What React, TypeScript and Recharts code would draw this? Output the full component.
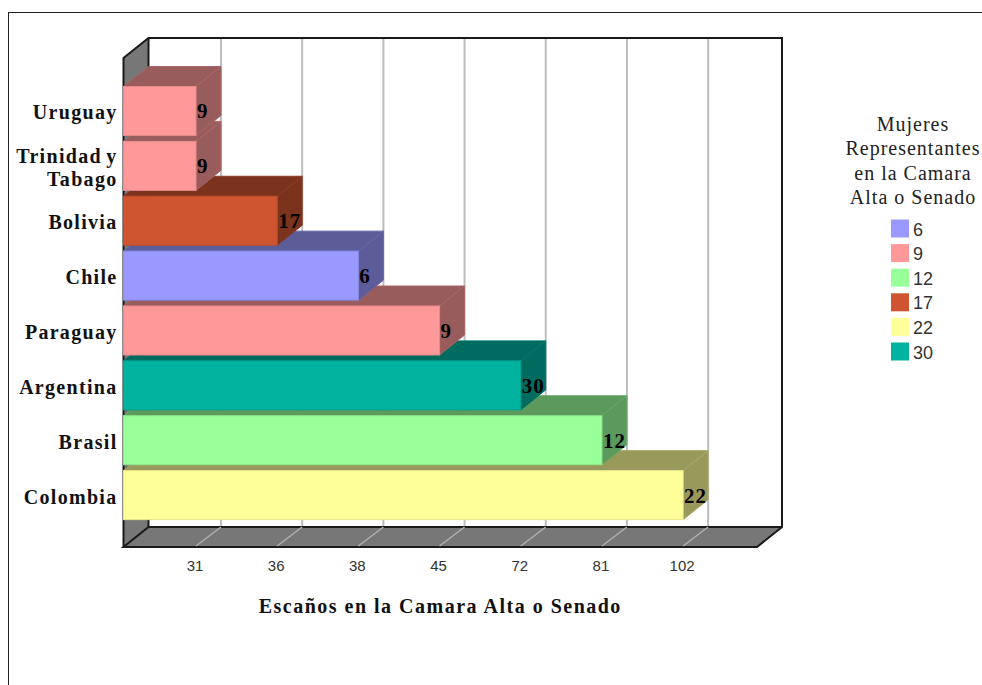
import React from "react";
import { BarChart, Bar, XAxis, YAxis, CartesianGrid, LabelList, usePlotArea } from "recharts";

// bottom to top, so that upper bars are painted over the top faces of lower ones
const categories = ["Colombia", "Brasil", "Argentina", "Paraguay", "Chile", "Bolivia", "Trinidad y Tabago", "Uruguay"];
const seats = [102, 81, 72, 45, 38, 36, 31, 31];
const women = [22, 12, 30, 9, 6, 17, 9, 9];
const seatTicks = [31, 36, 38, 45, 72, 81, 102];
const legendValues = [6, 9, 12, 17, 22, 30];
const legendTitle = ["Mujeres", "Representantes", "en la Camara", "Alta o Senado"];
const axisTitle = "Escaños en la Camara Alta o Senado";

const colourOf: Record<number, string> = {
  6: "#9999ff",
  9: "#ff9999",
  12: "#99ff99",
  17: "#cf5530",
  22: "#ffff99",
  30: "#00b39f",
};

const data = categories.map((name, i) => ({
  name,
  seats: seats[i],
  women: women[i],
  position: seatTicks.indexOf(seats[i]) + 1,
}));

const SERIF = "'Liberation Serif', 'Times New Roman', serif";
const SANS = "'Liberation Sans', Arial, sans-serif";
const DX = 25;
const DY = 20;

function shade(hex: string, f: number) {
  const n = parseInt(hex.slice(1), 16);
  const c = [(n >> 16) & 255, (n >> 8) & 255, n & 255].map((v) => Math.round(v * f));
  return `rgb(${c[0]},${c[1]},${c[2]})`;
}

function Walls() {
  const p = usePlotArea();
  if (!p) return null;
  const l = p.x, r = p.x + p.width, t = p.y, b = p.y + p.height;
  const edge = { stroke: "#1a1a1a", strokeWidth: 2, fill: "none" };
  return (
    <g>
      <polygon points={`${l + DX},${t - DY} ${r + DX},${t - DY} ${r + DX},${b - DY} ${l + DX},${b - DY}`} fill="#fff" />
      <polygon points={`${l},${t} ${l + DX},${t - DY} ${l + DX},${b - DY} ${l},${b}`} fill="#777" />
      <polygon points={`${l},${b} ${r},${b} ${r + DX},${b - DY} ${l + DX},${b - DY}`} fill="#777" />
      <polyline {...edge} points={`${l},${b} ${l},${t} ${l + DX},${t - DY} ${r + DX},${t - DY} ${r + DX},${b - DY} ${r},${b} ${l},${b} ${l + DX},${b - DY} ${r + DX},${b - DY}`} />
      <line {...edge} x1={l + DX} y1={t - DY} x2={l + DX} y2={b - DY} />
    </g>
  );
}

function GridLine(props: any) {
  const { x1, y1, y2 } = props;
  const p = usePlotArea();
  if (!p || Math.abs(x1 - p.x) < 1 || Math.abs(x1 - (p.x + p.width)) < 1) return null;
  return (
    <g>
      <line x1={x1} y1={y2 - 1} x2={x1 + DX} y2={y2 - DY} stroke="#b0b0b0" strokeWidth={1.5} />
      <line x1={x1 + DX} y1={y1 - DY + 1} x2={x1 + DX} y2={y2 - DY - 1} stroke="#bdbdbd" strokeWidth={2} />
    </g>
  );
}

function Box3D(props: any) {
  const { x, y, width, height, payload } = props;
  const c = colourOf[payload.women];
  const dark = shade(c, 0.6);
  const rx = x + width, by = y + height;
  return (
    <g>
      <polygon points={`${x},${y} ${rx},${y} ${rx + DX},${y - DY} ${x + DX},${y - DY}`} fill={dark} stroke={shade(c, 0.66)} strokeWidth={1} />
      <polygon points={`${rx},${y} ${rx + DX},${y - DY} ${rx + DX},${by - DY} ${rx},${by}`} fill={dark} stroke={shade(c, 0.66)} strokeWidth={1} />
      <rect x={x} y={y} width={width} height={height} fill={c} stroke={shade(c, 0.9)} strokeWidth={1} />
    </g>
  );
}

function CategoryTick(props: any) {
  const { x, y, payload } = props;
  const words = String(payload.value).split(" ");
  const lines = words.length > 2 ? [words.slice(0, 2).join(" "), words.slice(2).join(" ")] : [payload.value];
  const start = y + 8.5 - ((lines.length - 1) * 23) / 2;
  return (
    <text x={x} textAnchor="end" fontFamily={SERIF} fontWeight="bold" fontSize={20} letterSpacing={1.3} wordSpacing={-2} fill="#111">
      {lines.map((s: string, i: number) => (
        <tspan key={s} x={x} y={start + i * 23}>{s}</tspan>
      ))}
    </text>
  );
}

function LegendBlock() {
  return (
    <g>
      {legendTitle.map((s, i) => (
        <text key={s} x={913} y={131 + i * 24.3} textAnchor="middle" fontFamily={SERIF} fontSize={20} letterSpacing={1} fill="#222">{s}</text>
      ))}
      {legendValues.map((v, i) => (
        <g key={v}>
          <rect x={891} y={219.5 + i * 24.6} width={18} height={18} fill={colourOf[v]} />
          <text x={913} y={235.5 + i * 24.6} fontFamily={SANS} fontSize={18} fill="#333">{v}</text>
        </g>
      ))}
    </g>
  );
}

export default function App() {
  return (
    <div style={{ position: "absolute", left: 0, top: 0, width: 982, height: 685, background: "#fff", overflow: "hidden" }}>
      <div style={{ position: "absolute", left: 8, top: 12, right: 0, bottom: 0, borderTop: "1px solid #222", borderLeft: "1px solid #222" }} />
      <div style={{ position: "absolute", left: 0, top: 0 }}>
        <BarChart
          width={982}
          height={685}
          data={data}
          layout="vertical"
          barSize={49}
          margin={{ top: 58, right: 225, bottom: 68, left: 0 }}
        >
          <CartesianGrid
            horizontal={<Walls />}
            horizontalCoordinatesGenerator={() => [0]}
            vertical={<GridLine />}
          />
          <XAxis
            type="number"
            dataKey="position"
            domain={[0.107, 7.91]}
            ticks={seatTicks.map((_, i) => i + 1)}
            tickFormatter={(v: number) => String(seatTicks[v - 1])}
            tick={{ fontFamily: SANS, fontSize: 15, fill: "#333", dx: -1 }}
            tickLine={false}
            axisLine={false}
            tickMargin={7}
            height={70}
            interval={0}
            label={{
              value: axisTitle,
              position: "insideBottom",
              offset: 4,
              style: { fontFamily: SERIF, fontWeight: "bold", fontSize: 20, letterSpacing: 1.5, fill: "#111" },
            }}
          />
          <YAxis
            type="category"
            dataKey="name"
            reversed
            width={123.5}
            tick={<CategoryTick />}
            tickLine={false}
            tickSize={0}
            axisLine={false}
            tickMargin={6}
            interval={0}
            padding={{ top: 25.5, bottom: 24.5 }}
          />
          <Bar dataKey="position" isAnimationActive={false} shape={<Box3D />}>
            <LabelList
              dataKey="women"
              position="right"
              offset={1}
              style={{ fontFamily: SERIF, fontWeight: "bold", fontSize: 21, letterSpacing: 1, fill: "#000" }}
            />
          </Bar>
          <LegendBlock />
        </BarChart>
      </div>
    </div>
  );
}
